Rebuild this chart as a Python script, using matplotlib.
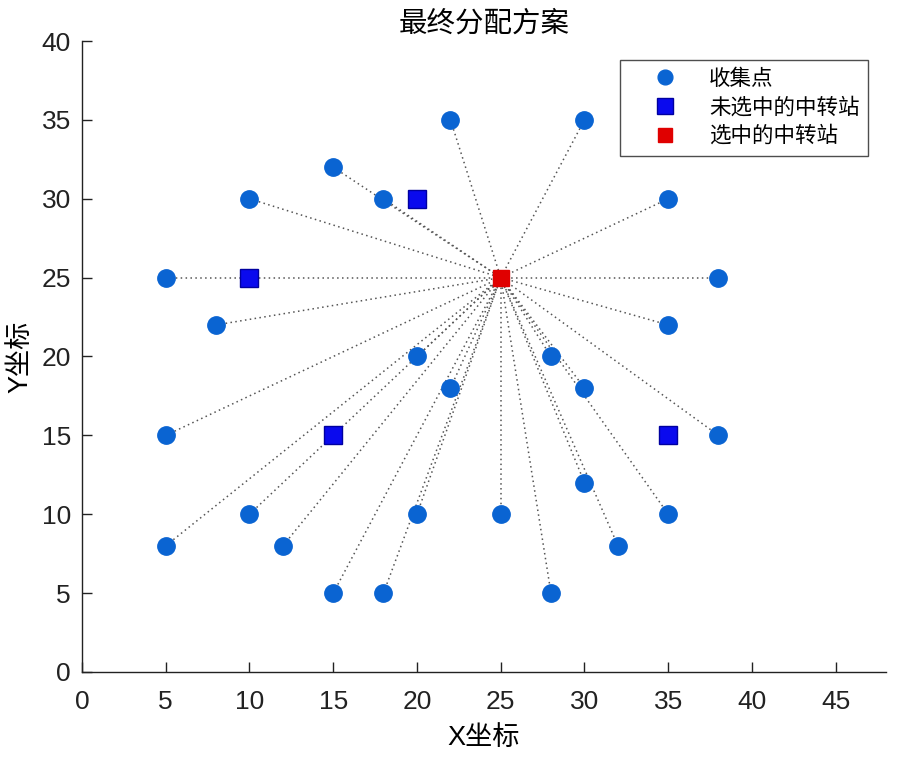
import matplotlib
matplotlib.use("Agg")
import matplotlib.pyplot as plt

plt.rcParams['font.family'] = ['Liberation Sans', 'Noto Sans CJK SC', 'DejaVu Sans']

# Collection points
cx = [22, 30, 15, 18, 10, 35, 5, 38, 8, 35, 20, 28, 22, 30, 5, 38, 30, 10, 20, 25, 35, 5, 12, 32, 15, 18, 28]
cy = [35, 35, 32, 30, 30, 30, 25, 25, 22, 22, 20, 20, 18, 18, 15, 15, 12, 10, 10, 10, 10, 8, 8, 8, 5, 5, 5]
# Unselected transfer stations
ux = [20, 10, 15, 35]
uy = [30, 25, 15, 15]
# Selected transfer station
sx = [25]
sy = [25]

fig = plt.figure(figsize=(8.98, 7.61), dpi=100)
ax = fig.add_axes([0.0913, 0.1170, 0.8953, 0.8291])

for x, y in zip(cx, cy):
    ax.plot([x, sx[0]], [y, sy[0]], linestyle=(0, (1, 2.2)), color='#555555', linewidth=1.1, zorder=1)

ax.plot(cx, cy, 'o', color='#0A64D2', markersize=12.5, linestyle='none', label='收集点', zorder=3)
ax.plot(ux, uy, 's', markerfacecolor='#0A0AEE', markeredgecolor='#0000A0', markeredgewidth=1.0,
        markersize=13.5, linestyle='none', label='未选中的中转站', zorder=3)
ax.plot(sx, sy, 's', markerfacecolor='#E00000', markeredgecolor='#E00000',
        markersize=11.5, linestyle='none', label='选中的中转站', zorder=4)

ax.set_xlim(0, 48)
ax.set_ylim(0, 40)
ax.set_xticks(range(0, 50, 5))
ax.set_yticks(range(0, 45, 5))
ax.spines['top'].set_visible(False)
ax.spines['right'].set_visible(False)
for s in ['left', 'bottom']:
    ax.spines[s].set_linewidth(1.0)
    ax.spines[s].set_color('#222222')
ax.tick_params(direction='in', length=7, width=1.0, labelsize=19, colors='#222222')
ax.tick_params(axis='x', pad=13)
ax.tick_params(axis='y', pad=8)

ax.set_title('最终分配方案', fontsize=20.5, pad=7)
ax.set_xlabel('X坐标', fontsize=19.5, labelpad=8)
ax.set_ylabel('Y坐标', fontsize=19.5, labelpad=6)

leg = ax.legend(loc='upper right', bbox_to_anchor=(0.9776, 0.970), borderaxespad=0,
                fontsize=15.5, frameon=True,
                fancybox=False, edgecolor='#222222', markerscale=0.85, handletextpad=0.35,
                borderpad=0.4, labelspacing=0.36, handlelength=3.4)
leg.get_frame().set_linewidth(1.0)

fig.savefig('out.png', dpi=100)
